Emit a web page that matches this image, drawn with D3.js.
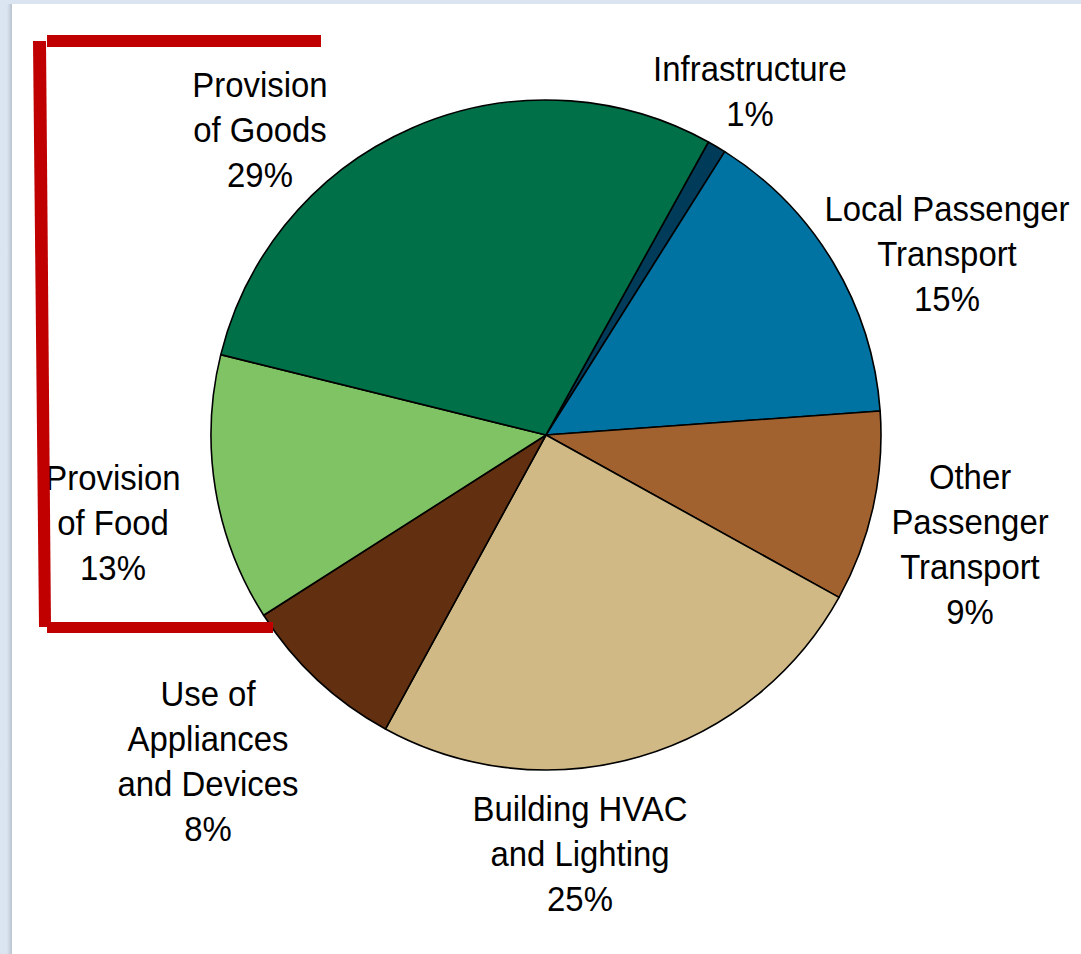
<!DOCTYPE html>
<html><head><meta charset="utf-8">
<script src="https://cdn.jsdelivr.net/npm/d3@7"></script>
<style>html,body{margin:0;padding:0;background:#dbe5f1;}svg{display:block;}</style>
</head><body>
<script>
const categories = ["Infrastructure","Local Passenger Transport","Other Passenger Transport","Building HVAC and Lighting","Use of Appliances and Devices","Provision of Food","Provision of Goods"];
const values = [0.9, 14.9, 9.2, 24.9, 8.0, 12.9, 29.2];
const colors = ["#003c5a","#0073a2","#a2622f","#d1b985","#623010","#80c364","#007048"];
const labelLines = [
  ["Infrastructure","1%"],
  ["Local Passenger","Transport","15%"],
  ["Other","Passenger","Transport","9%"],
  ["Building HVAC","and Lighting","25%"],
  ["Use of","Appliances","and Devices","8%"],
  ["Provision","of Food","13%"],
  ["Provision","of Goods","29%"]
];
const labelPos = [[750,81],[947,221],[970,489],[580,821],[208,706],[113,490],[260,97]];

const W=1081,H=954;
const svg=d3.select("body").append("svg").attr("width",W).attr("height",H);
const defs=svg.append("defs");
const g1=defs.append("linearGradient").attr("id","sh").attr("x1","0").attr("x2","1");
g1.append("stop").attr("offset","0").attr("stop-color","#dbe5f1");
g1.append("stop").attr("offset","1").attr("stop-color","#b9c3cf");
svg.append("rect").attr("x",0).attr("y",0).attr("width",W).attr("height",H).attr("fill","#dbe5f1");
svg.append("rect").attr("x",7).attr("y",4).attr("width",5).attr("height",H).attr("fill","url(#sh)");
svg.append("rect").attr("x",12).attr("y",4).attr("width",W-12).attr("height",H-4).attr("fill","#ffffff");

const cx=546,cy=435,r=335;
const start=29*Math.PI/180;
const pie=d3.pie().sort(null).value(d=>d).startAngle(start).endAngle(start+2*Math.PI);
const arc=d3.arc().innerRadius(0).outerRadius(r);
const gp=svg.append("g").attr("transform",`translate(${cx},${cy})`);
gp.selectAll("path").data(pie(values)).join("path")
  .attr("d",arc).attr("fill",(d,i)=>colors[i])
  .attr("stroke","#000").attr("stroke-width",1.6).attr("stroke-linejoin","round");

const lh=45;
labelLines.forEach((lines,i)=>{
  const t=svg.append("text")
    .attr("transform",`translate(${labelPos[i][0]},${labelPos[i][1]}) scale(0.94,1)`)
    .attr("text-anchor","middle")
    .attr("font-family","'Liberation Sans', Arial, sans-serif")
    .attr("font-size",35).attr("fill","#000");
  lines.forEach((s,j)=>t.append("tspan").attr("x",0).attr("y",j*lh).text(s));
});

// red bracket
const red="#c00000";
svg.append("polygon").attr("points","47,35 321,35 321,47 47,47").attr("fill",red);
svg.append("polygon").attr("points","33,41 46,41 51,627 39,627").attr("fill",red);
svg.append("polygon").attr("points","47,622 273,622 273,633 47,633").attr("fill",red);
</script>
</body></html>
